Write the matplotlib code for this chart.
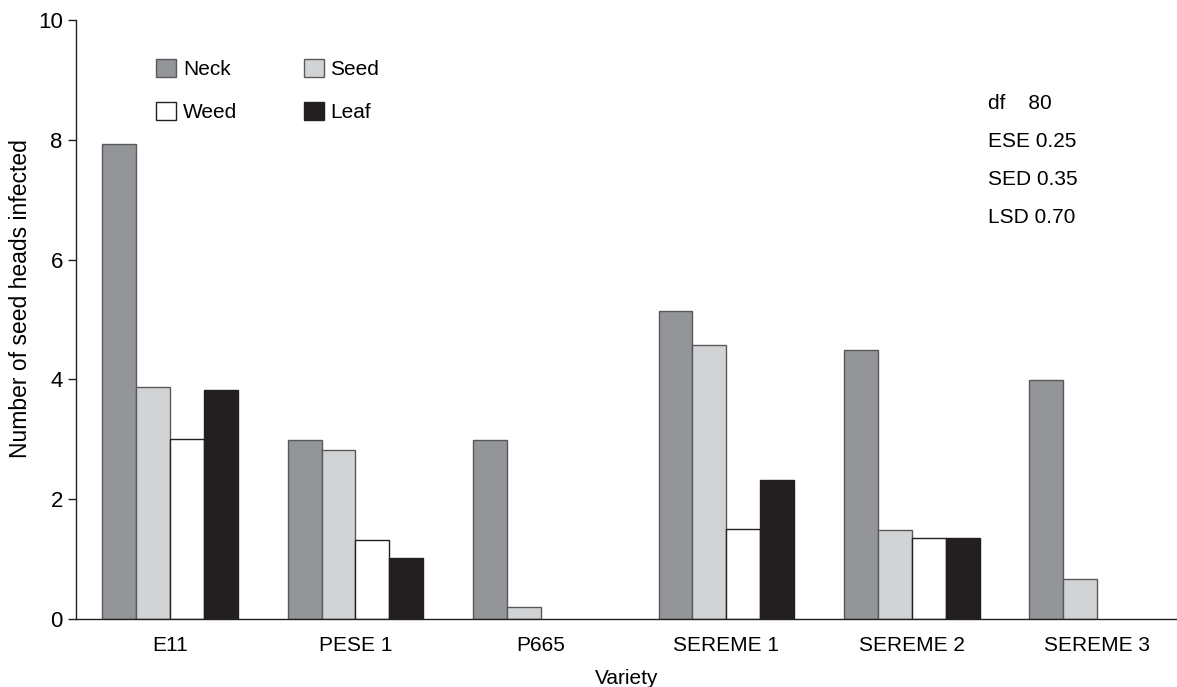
import matplotlib
matplotlib.use('Agg')
import matplotlib.pyplot as plt
from matplotlib.patches import Patch
import numpy as np

plt.rcParams['font.family'] = ['Liberation Sans', 'DejaVu Sans']

varieties = ["E11", "PESE 1", "P665", "SEREME 1", "SEREME 2", "SEREME 3"]
neck = [7.93, 2.99, 2.99, 5.14, 4.49, 3.99]
seed = [3.87, 2.82, 0.20, 4.57, 1.49, 0.66]
weed = [3.00, 1.32, 0.0, 1.50, 1.35, 0.0]
leaf = [3.83, 1.02, 0.0, 2.32, 1.35, 0.0]
stats = ["df    80", "ESE 0.25", "SED 0.35", "LSD 0.70"]

series = [
    ("Neck", neck, '#939598', '#58595b'),
    ("Seed", seed, '#d1d3d4', '#58595b'),
    ("Weed", weed, 'white', '#231f20'),
    ("Leaf", leaf, '#231f20', '#231f20'),
]

fig = plt.figure(figsize=(11.77, 6.87), dpi=100)
ax = fig.add_axes([0.0646, 0.099, 0.9354, 0.872])

x = np.arange(len(varieties))
w = 0.183
handles = {}
for k, (name, vals, fc, ec) in enumerate(series):
    vals = np.array(vals)
    pos = x + (k - 1.5) * w
    keep = vals > 0
    ax.bar(pos[keep], vals[keep], width=w, color=fc, edgecolor=ec, linewidth=1.0)
    handles[name] = Patch(facecolor=fc, edgecolor=ec, linewidth=1.0)

ax.set_xlim(-0.507, 5.43)
ax.set_ylim(0, 10)
ax.set_yticks([0, 2, 4, 6, 8, 10])
ax.set_xticks(x)
ax.set_xticklabels(varieties, fontsize=15)
ax.tick_params(axis='y', labelsize=16, length=6, width=1, color='#231f20', direction='out')
ax.tick_params(axis='x', length=0, pad=12)
for s in ['top', 'right']:
    ax.spines[s].set_visible(False)
for s in ['left', 'bottom']:
    ax.spines[s].set_color('#231f20')
    ax.spines[s].set_linewidth(1.0)

ax.set_ylabel("Number of seed heads infected", fontsize=16.5)
ax.yaxis.set_label_coords(-0.040, 0.535)
ax.set_xlabel("Variety", fontsize=15, labelpad=10)

order = ["Neck", "Weed", "Seed", "Leaf"]
ax.legend([handles[n] for n in order], order, ncol=2, frameon=False,
          loc='upper left', bbox_to_anchor=(0.0635, 0.952), fontsize=15,
          handlelength=0.95, handleheight=0.95, handletextpad=0.32,
          columnspacing=3.2, labelspacing=1.1, borderpad=0)

for i, t in enumerate(stats):
    ax.text(0.828, 0.86 - i * 0.0635, t, transform=ax.transAxes,
            fontsize=15, ha='left', va='center')

plt.savefig('out.png', dpi=100)
